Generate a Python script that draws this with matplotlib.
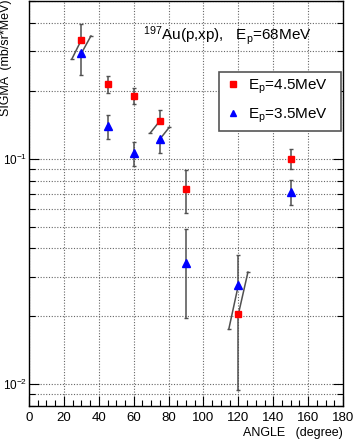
import numpy as np
import matplotlib
matplotlib.use('Agg')
import matplotlib.pyplot as plt
from matplotlib.ticker import FixedLocator, FixedFormatter, LogLocator, NullFormatter, MultipleLocator

plt.rcParams['font.family'] = ['Liberation Sans', 'DejaVu Sans']
plt.rcParams['mathtext.fontset'] = 'custom'
plt.rcParams['mathtext.rm'] = 'Liberation Sans'
plt.rcParams['mathtext.it'] = 'Liberation Sans:italic'

# 数据 (角度, 截面)
angles = [30, 45, 60, 75, 90, 120, 150]
sigma_45 = [0.336, 0.214, 0.190, 0.147, 0.0732, 0.0204, 0.100]
err_45 = [0.060, 0.018, 0.015, 0.017, 0.016, 0.011, 0.010]
sigma_35 = [0.293, 0.1396, 0.1057, 0.122, 0.0343, 0.0275, 0.0711]
err_35 = [0.057, 0.017, 0.0125, 0.016, 0.0146, 0.010, 0.009]
# 两个点重叠处，误差棒的一半斜着画
slanted = [0, 3, 5]
slant_dx = 5.5

fig = plt.figure(figsize=(3.53, 4.42), dpi=100)
ax = fig.add_axes([0.0822, 0.0814, 0.8895, 0.9163])

x = np.array(angles, dtype=float)
series = {
    'r': [np.array(sigma_45), np.array(err_45)],
    'b': [np.array(sigma_35), np.array(err_35)],
}
lo = {k: v[1].copy() for k, v in series.items()}
hi = {k: v[1].copy() for k, v in series.items()}
ecol = '#505050'

for i in slanted:
    top, bot = ('r', 'b') if series['r'][0][i] > series['b'][0][i] else ('b', 'r')
    yt, et = series[top][0][i], series[top][1][i]
    yb, eb = series[bot][0][i], series[bot][1][i]
    lo[top][i] = 0
    hi[bot][i] = 0
    ax.plot([x[i], x[i] - slant_dx], [yt, yt - et], color=ecol, lw=1.1, zorder=2)
    ax.plot([x[i] - slant_dx], [yt - et], marker='_', ms=3, color=ecol, zorder=2)
    ax.plot([x[i], x[i] + slant_dx], [yb, yb + eb], color=ecol, lw=1.1, zorder=2)
    ax.plot([x[i] + slant_dx], [yb + eb], marker='_', ms=3, color=ecol, zorder=2)

for k in ['b', 'r']:
    ax.errorbar(x, series[k][0], yerr=[lo[k], hi[k]], fmt='none', ecolor=ecol,
                elinewidth=1.1, capsize=1.5, capthick=1.0, zorder=2)

h1, = ax.plot(x, sigma_45, 's', color='#ff0000', ms=4.8, mec='#ff0000', zorder=3)
h2, = ax.plot(x, sigma_35, '^', color='#0000ff', ms=5.8, mec='#0000ff', zorder=3)

ax.set_xlim(0, 180)
ax.set_yscale('log')
ax.set_ylim(0.008, 0.5)

ax.xaxis.set_major_locator(MultipleLocator(20))
ax.xaxis.set_minor_locator(MultipleLocator(5))
ax.yaxis.set_major_locator(FixedLocator([0.01, 0.1]))
ax.yaxis.set_major_formatter(FixedFormatter(['$10^{-2}$', '$10^{-1}$']))
ax.yaxis.set_minor_locator(LogLocator(base=10, subs=np.arange(2, 10)))
ax.yaxis.set_minor_formatter(NullFormatter())

ax.tick_params(axis='x', which='both', direction='in', bottom=True, top=False, labelsize=9.5, pad=4)
ax.tick_params(axis='y', which='both', direction='in', left=True, right=True, labelsize=8.5, pad=1.5)
ax.tick_params(which='major', length=7.5, width=0.8)
ax.tick_params(which='minor', length=4, width=0.8)

grid_kw = dict(color='#666666', linestyle=(0, (1, 1.5)), linewidth=0.8)
ax.grid(True, which='major', axis='x', **grid_kw)
ax.grid(True, which='both', axis='y', **grid_kw)
ax.set_axisbelow(True)
for s in ax.spines.values():
    s.set_linewidth(1.0)

ax.text(0.362, 0.904, '$^{197}$Au(p,xp),   E$_{\\mathrm{p}}$=68MeV', transform=ax.transAxes,
        fontsize=11, va='baseline', ha='left')

leg = ax.legend([h1, h2], ['E$_{\\mathrm{p}}$=4.5MeV', 'E$_{\\mathrm{p}}$=3.5MeV'],
                loc='upper left', bbox_to_anchor=(0.605, 0.683, 0.389, 0.1424), mode='expand',
                borderaxespad=0, fontsize=11, fancybox=False, framealpha=1,
                edgecolor='#555555', borderpad=0.4, handlelength=1.0, handletextpad=0.5,
                labelspacing=0.7, markerscale=0.85)
leg.get_frame().set_linewidth(1.2)

fig.text(0.9717, 1 - 432.7 / 442, 'ANGLE   (degree)', ha='right', va='center', fontsize=9)
fig.text(6 / 353, 1.0, 'SIGMA  (mb/sr*MeV)', rotation=90, ha='center', va='top', fontsize=9)

fig.savefig('out.png', dpi=100)
